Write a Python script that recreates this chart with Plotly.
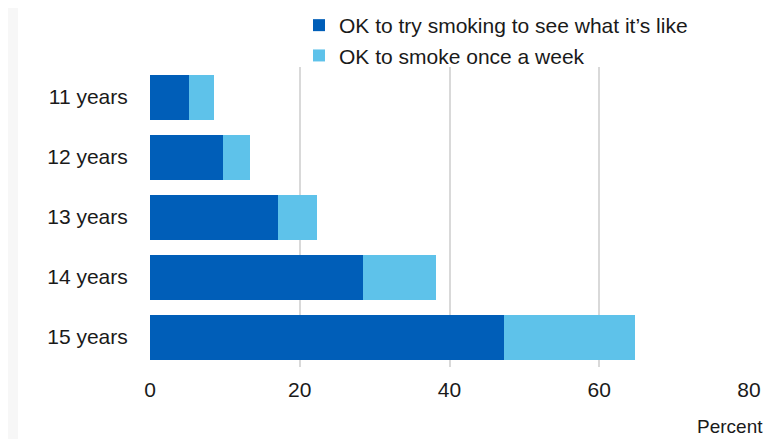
import plotly.graph_objects as go

categories = ["11 years", "12 years", "13 years", "14 years", "15 years"]
try_smoking = [5.2, 9.8, 17.1, 28.5, 47.3]
once_week = [3.4, 3.6, 5.2, 9.7, 17.5]
series_names = ["OK to try smoking to see what it\u2019s like", "OK to smoke once a week"]
x_ticks = [0, 20, 40, 60, 80]

OFF = 8  # page body margin
W, H = 782 - OFF, 439 - OFF
ML, MR, MT, MB = 142, 33, 59, 72
PW, PH = W - ML - MR, H - MT - MB

def px_x(p):
    # p in screenshot pixels
    return (p - OFF - ML) / PW

def px_y(p):
    return (H - (p - OFF) - MB) / PH

fig = go.Figure()
fig.add_trace(go.Bar(y=categories, x=try_smoking, orientation="h", name=series_names[0],
                     marker=dict(color="#005EB8", line=dict(width=0))))
fig.add_trace(go.Bar(y=categories, x=once_week, orientation="h", name=series_names[1],
                     marker=dict(color="#5EC2EA", line=dict(width=0))))

fig.update_layout(
    width=W, height=H,
    margin=dict(l=ML, r=MR, t=MT, b=MB, autoexpand=False),
    barmode="stack", bargap=0.25,
    paper_bgcolor="#f7f7f7", plot_bgcolor="white",
    font=dict(family="Liberation Sans, Arial, sans-serif", color="#1a1a1a"),
    showlegend=True,
    legend=dict(x=px_x(299), y=px_y(5), xanchor="left", yanchor="top",
                traceorder="normal", font=dict(size=21), bgcolor="rgba(0,0,0,0)",
                itemwidth=30, tracegroupgap=0),
    xaxis=dict(range=[0, 80], tickvals=x_ticks, showgrid=True, gridcolor="#d9d9d9", gridwidth=2,
               zeroline=False, showline=False, tickfont=dict(size=21), ticks="outside",
               ticklen=4, tickcolor="rgba(0,0,0,0)", fixedrange=True),
    yaxis=dict(autorange="reversed", showgrid=False, showline=False, tickfont=dict(size=21),
               ticks="outside", ticklen=17, tickcolor="rgba(0,0,0,0)"),
    shapes=[dict(type="rect", xref="paper", yref="paper", x0=px_x(18), x1=px_x(800),
                 y0=px_y(460), y1=px_y(3), fillcolor="white", line=dict(width=0), layer="below")],
    annotations=[dict(text="Percent", xref="paper", yref="paper", x=px_x(765), y=px_y(426),
                      xanchor="right", yanchor="middle", showarrow=False, font=dict(size=19))],
)

fig.write_html("out.html")
